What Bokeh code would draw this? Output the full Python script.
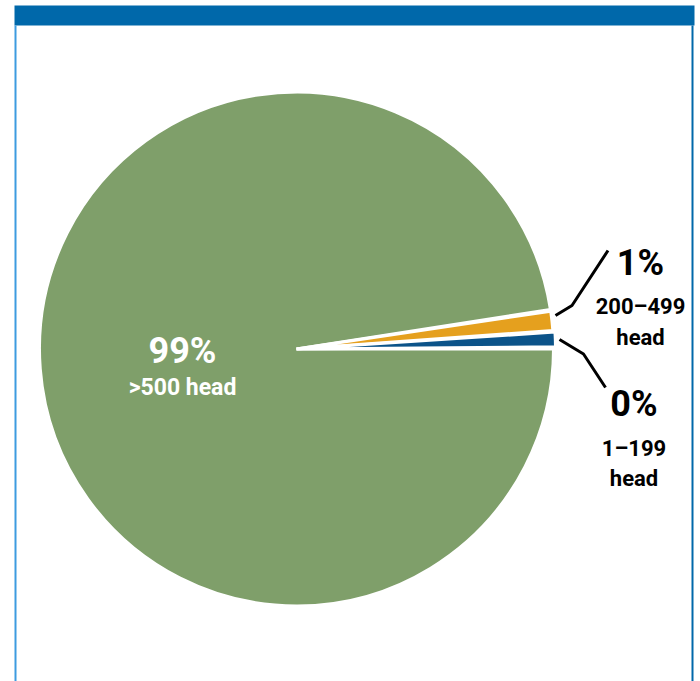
import math
from bokeh.plotting import figure
from bokeh.models import Range1d
from bokeh.core.properties import value
from bokeh.embed import file_html
from bokeh.resources import INLINE

# ---- data ----
groups = ["1–199 head", "200–499 head", ">500 head"]
pct_labels = ["0%", "1%", "99%"]
# share of the circle as drawn, in percent (slices run counter-clockwise from 3 o'clock)
drawn_share = [0.9, 1.2, 97.9]
colors = ["#0b5389", "#e5a01e", "#7f9f6a"]

# ---- layout / style ----
W, H = 700, 681
FONT = "Roboto"

def Y(sy):  # screen y -> data y
    return H - sy

cx, cy = 296, Y(348.5)
start_offset = 0.5   # degrees
gap = 0.4            # degrees between slices
radii = [259, 257, 257]

p = figure(width=W, height=H, output_backend="svg", toolbar_location=None,
           x_range=Range1d(0, W), y_range=Range1d(0, H),
           min_border=0, background_fill_color="white", border_fill_color="white")
p.axis.visible = False
p.grid.visible = False
p.outline_line_color = None

# frame: top bar and side rules
p.quad(left=14, right=694, top=Y(5), bottom=Y(25), fill_color="#0068aa", line_color=None)
p.quad(left=14, right=16, top=Y(25), bottom=Y(H), fill_color="#3d9be0", line_color=None)
p.quad(left=691, right=693, top=Y(25), bottom=Y(H), fill_color="#0068aa", line_color=None)

# compute angles
starts, ends = [], []
a = start_offset
for i, s in enumerate(drawn_share):
    deg = s * 3.6
    if i == len(drawn_share) - 1:
        starts.append(a); ends.append(360.0)
    else:
        starts.append(a); ends.append(a + deg)
        a = a + deg + gap

# draw the big slice first, small ones on top
for i in [2, 1, 0]:
    p.wedge(x=cx, y=cy, radius=radii[i], start_angle=math.radians(starts[i]),
            end_angle=math.radians(ends[i]), fill_color=colors[i],
            line_color="white", line_width=3)

# leader lines for small slices
leaders = {
    1: [(555, 315), (571.5, 305), (607.5, 250)],
    0: [(559, 339), (583, 353.5), (605, 387)],
}
for i, pts in leaders.items():
    p.line([q[0] for q in pts], [Y(q[1]) for q in pts], line_color="black", line_width=3)

# labels
label_pos = {
    2: dict(x=182, pct_base=350, lines_base=[387], size_pct="36px", size_txt="23px", color="white"),
    1: dict(x=640, pct_base=262, lines_base=[306, 337], size_pct="36px", size_txt="22px", color="black"),
    0: dict(x=633.5, pct_base=403, lines_base=[448, 478], size_pct="36px", size_txt="22px", color="black"),
}
for i, lp in label_pos.items():
    p.text(x=[lp["x"]], y=[Y(lp["pct_base"])], text=[pct_labels[i]],
           text_font=value(FONT), text_font_style="bold", text_font_size=value(lp["size_pct"]),
           text_color=lp["color"], text_align="center", text_baseline="alphabetic")
    lines = [groups[i]] if len(lp["lines_base"]) == 1 else groups[i].split(" ")
    for ln, b in zip(lines, lp["lines_base"]):
        p.text(x=[lp["x"]], y=[Y(b)], text=[ln],
               text_font=value(FONT), text_font_style="bold", text_font_size=value(lp["size_txt"]),
               text_color=lp["color"], text_align="center", text_baseline="alphabetic")

open("out.html", "w").write(file_html(p, INLINE))
